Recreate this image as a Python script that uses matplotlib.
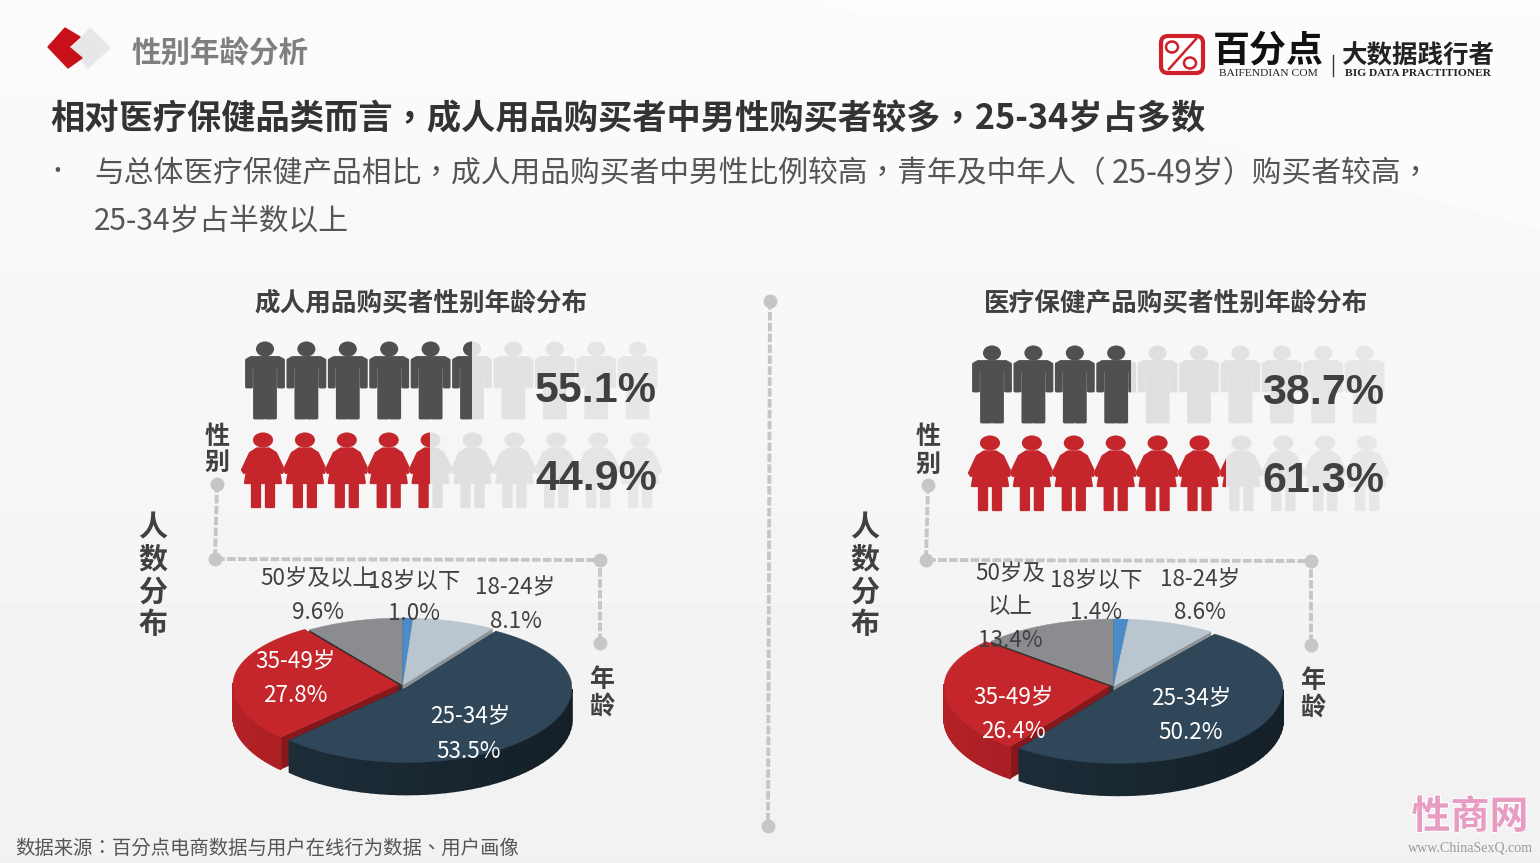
"""
Gender and age split of buyers, adult products vs health care products
"""

import numpy as np
import matplotlib
matplotlib.use("Agg")
import matplotlib.pyplot as plt
from matplotlib.patches import Polygon, Ellipse, Rectangle, FancyBboxPatch
import matplotlib.patheffects as pe

plt.rcParams['font.family'] = ['Noto Sans CJK SC', 'DejaVu Sans']

# data
age_labels = ['18岁以下', '18-24岁', '25-34岁', '35-49岁', '50岁及以上']
adult_age = [1.0, 8.1, 53.5, 27.8, 9.6]
health_age = [1.4, 8.6, 50.2, 26.4, 13.4]
adult_gender = [55.1, 44.9]
health_gender = [38.7, 61.3]

# slice styles, same order as the age labels
top_colors = ['#4a8bc9', '#b9c6d0', '#2f4759', '#c5262b', '#8a8c8f']
wall_colors = ['#2f6aa3', '#8d9499', '#1f303c', '#b32126', '#5a5a5a']
cut_colors = ['#2a5f95', '#8d9499', '#16232c', '#86171b', '#333333']
explode = [0, 0, 5, 5, 0]

DARK = '#404040'
GUIDE = '#c6c6c6'
# this family centres the full width comma and colon in their cell, like the slide
CENTRED_PUNCT = ['Noto Sans CJK TC', 'DejaVu Sans']


def px(size):
    # font size given in pixels at dpi 100
    return size * 0.72


def put_text(ax, x, y, s, size, color=DARK, weight='normal', ha='center', **kw):
    return ax.text(x, y + 4, s, fontsize=px(size), color=color, fontweight=weight,
                   ha=ha, va='center', zorder=10, **kw)


def draw_man(ax, cx, top, color, clip=None):
    pts = [(-18.5, 18), (-14, 15.5), (14, 15.5), (18.5, 18), (18.5, 45), (13.5, 45), (13.5, 25),
           (10.5, 25), (10.5, 76), (1, 76), (1, 48), (-1, 48), (-1, 76), (-10.5, 76),
           (-10.5, 25), (-13.5, 25), (-13.5, 45), (-18.5, 45)]
    body = Polygon([(cx + p, top + q) for p, q in pts], closed=True, fc=color, ec=color,
                   lw=2.0, joinstyle='round', zorder=3)
    head = Ellipse((cx, top + 7), 18, 15, fc=color, ec='none', zorder=3)
    for part in (body, head):
        ax.add_patch(part)
        if clip is not None:
            part.set_clip_path(clip)


def draw_woman(ax, cx, top, color, clip=None):
    pts = [(-6, 16.5), (6, 16.5), (13, 21), (21, 38), (19, 41), (16, 39), (18, 51), (11, 51),
           (11, 75), (3, 75), (3, 51), (-3, 51), (-3, 75), (-11, 75), (-11, 51),
           (-18, 51), (-16, 39), (-19, 41), (-21, 38), (-13, 21)]
    body = Polygon([(cx + p, top + q) for p, q in pts], closed=True, fc=color, ec=color,
                   lw=1.6, joinstyle='round', zorder=3)
    head = Ellipse((cx, top + 8), 20, 15, fc=color, ec='none', zorder=3)
    for part in (body, head):
        ax.add_patch(part)
        if clip is not None:
            part.set_clip_path(clip)


def draw_icon_row(ax, drawer, first_x, step, top, share, color):
    left = first_x - 21
    right = first_x + 9 * step + 21
    cut = left + (right - left) * share / 100
    clip = Rectangle((left - 3, top - 5), cut - left + 3, 95, transform=ax.transData)
    for i in range(10):
        x = first_x + i * step
        grey = 0.85 + 0.006 * i
        drawer(ax, x, top, (grey, grey, grey))
        drawer(ax, x, top, color, clip)


def pie_xy(cx, cy, rx, ry_top, ry_bot, t):
    # t is clockwise from 12 o'clock, top half is squeezed a bit like the perspective
    t = np.asarray(t)
    c = np.cos(t)
    ry = np.where(c > 0, ry_top, ry_bot)
    return cx + rx * np.sin(t), cy - ry * c


def draw_pie3d(ax, cx, cy, rx, ry_top, ry_bot, depth, values):
    edges = np.cumsum([0] + list(values)) / sum(values) * 2 * np.pi
    # back slices first, the big front slice last
    for i in [4, 0, 1, 3, 2]:
        a0, a1 = edges[i], edges[i + 1]
        mid = (a0 + a1) / 2
        ox = explode[i] * np.sin(mid)
        oy = -explode[i] * np.cos(mid) * 0.8
        t = np.linspace(a0, a1, 60)
        x, y = pie_xy(cx, cy, rx, ry_top, ry_bot, t)
        x, y = x + ox, y + oy
        ax0, ay0 = cx + ox, cy + oy

        # radial cut faces
        for xe, ye in ((x[0], y[0]), (x[-1], y[-1])):
            ax.add_patch(Polygon([(ax0, ay0), (xe, ye), (xe, ye + depth), (ax0, ay0 + depth)],
                                 fc=cut_colors[i], ec=cut_colors[i], lw=0.3, zorder=4))

        # outer wall, only the front part shows; darker to the right
        base = np.array(matplotlib.colors.to_rgb(wall_colors[i]))
        for j in range(len(t) - 1):
            if np.cos(t[j]) > 0.02:
                continue
            shade = 0.66 + 0.34 * (1 - (x[j] - (cx - rx)) / (2 * rx))
            col = base * shade
            ax.add_patch(Polygon([(x[j], y[j]), (x[j + 1], y[j + 1]),
                                  (x[j + 1], y[j + 1] + depth), (x[j], y[j] + depth)],
                                 fc=col, ec=col, lw=1.2, joinstyle='round', zorder=4))

        # top face
        ax.add_patch(Polygon(np.column_stack([np.r_[ax0, x], np.r_[ay0, y]]),
                             fc=top_colors[i], ec=top_colors[i], lw=0.3, zorder=4))


def draw_guides(ax, pts):
    xs, ys = zip(*pts)
    ax.plot(xs, ys, color=GUIDE, lw=2.8, linestyle=(0, (2.2, 0.6)), zorder=2)
    ax.plot(xs, ys, 'o', color=GUIDE, ms=10, mec='none', zorder=2)


def draw_header(ax):
    # chevron mark
    ax.add_patch(Polygon([(90, 27), (111, 48), (88, 69), (71, 48)], fc='#e6e7e8', ec='#f2f2f2',
                         lw=1, joinstyle='round', zorder=2))
    ax.add_patch(Polygon([(48, 47), (65, 28), (80, 37), (69, 47), (82, 58), (68, 68)],
                         fc='#c8101a', ec='#c8101a', lw=1, joinstyle='round', zorder=3))
    put_text(ax, 132, 50, '性别年龄分析', 29.5, color='#7f7f7f', weight='bold', ha='left')

    # logo
    ax.add_patch(FancyBboxPatch((1161, 36), 42, 37, boxstyle='round,pad=0,rounding_size=7',
                                fc='white', ec='#d0202a', lw=3, zorder=3))
    ax.plot([1169, 1196], [69, 39], color='#d0202a', lw=1.8, zorder=4)
    ax.add_patch(Ellipse((1172, 47), 12, 11, fc='none', ec='#d0202a', lw=1.8, zorder=4))
    ax.add_patch(Ellipse((1190, 63), 12, 11, fc='none', ec='#d0202a', lw=1.8, zorder=4))
    put_text(ax, 1268, 47, '百分点', 37, color='#111111', weight='bold')
    put_text(ax, 1268, 70, 'BAIFENDIAN COM', 11.5, color='#222222', family='Liberation Serif')
    ax.plot([1333, 1333], [55, 76], color='#333333', lw=1, zorder=4)
    put_text(ax, 1418, 52, '大数据践行者', 25.5, color='#222222', weight='bold')
    put_text(ax, 1418, 70, 'BIG DATA PRACTITIONER', 11.5, color='#222222', weight='bold',
             family='Liberation Serif')

    put_text(ax, 50, 115, '相对医疗保健品类而言\uff0c成人用品购买者中男性购买者较多\uff0c25-34岁占多数',
             34.3, color='#333333', weight='bold', ha='left', family=CENTRED_PUNCT)
    put_text(ax, 57, 168, '•', 22, color='#555555')
    # the bracket has wide gaps in the slide, so the line is set in three pieces
    put_text(ax, 94, 170, '与总体医疗保健产品相比\uff0c成人用品购买者中男性比例较高\uff0c青年及中年人\uff08',
             29.8, color='#555555', ha='left', family=CENTRED_PUNCT)
    put_text(ax, 1112, 170, '25-49岁', 31.5, color='#555555', ha='left')
    put_text(ax, 1223, 170, '\uff09购买者较高\uff0c', 29.8, color='#555555', ha='left', family=CENTRED_PUNCT)
    put_text(ax, 94, 218, '25-34岁占半数以上', 29.8, color='#555555', ha='left')


def draw_panel(ax, dx, title, title_x, men, women, man_x, woman_x, man_top, woman_top, pct_y):
    put_text(ax, title_x, 299, title, 25.6, weight='bold')
    draw_icon_row(ax, draw_man, man_x, 41.4, man_top, men, '#505050')
    draw_icon_row(ax, draw_woman, woman_x, 41.9, woman_top, women, '#c5262b')
    for y, value in zip(pct_y, (men, women)):
        put_text(ax, 596 + dx, y, f'{value:.1f}%', 43, weight='bold', family='Liberation Sans')
    for y, ch in zip((523, 555, 588, 620), '人数分布'):
        put_text(ax, 153 + (dx - 15 if dx else 0), y, ch, 29, weight='bold')


def main():
    fig = plt.figure(figsize=(15.4, 8.63), dpi=100)
    ax = fig.add_axes([0, 0, 1, 1])

    # soft page background
    grad = np.linspace(0.985, 0.945, 256).reshape(-1, 1)
    ax.imshow(grad, extent=(0, 1540, 863, 0), cmap='gray', vmin=0, vmax=1, aspect='auto', zorder=0)
    ax.add_patch(Polygon([(820, 0), (1540, 0), (1540, 230), (1150, 120)], fc='white', alpha=0.35,
                         ec='none', zorder=1))
    ax.set_xlim(0, 1540)
    ax.set_ylim(863, 0)
    ax.axis('off')

    draw_header(ax)

    # left panel
    draw_panel(ax, 0, '成人用品购买者性别年龄分布', 421, adult_gender[0], adult_gender[1],
               265, 263, 342, 432, (387, 475))
    for y, ch in zip((433, 459), '性别'):
        put_text(ax, 217, y, ch, 25, weight='bold')
    for y, ch in zip((676, 703), '年龄'):
        put_text(ax, 602, y, ch, 25, weight='bold')
    draw_guides(ax, [(217, 484), (215, 559), (600, 560), (600, 643)])
    draw_pie3d(ax, 403, 685, 165, 67, 75, 32, adult_age)

    put_text(ax, 318, 575, age_labels[4], 22.5)
    put_text(ax, 318, 608, f'{adult_age[4]:.1f}%', 22.5)
    put_text(ax, 414, 577, age_labels[0], 22.5)
    put_text(ax, 414, 609, f'{adult_age[0]:.1f}%', 22.5)
    put_text(ax, 515, 584, age_labels[1], 22.5)
    put_text(ax, 516, 617, f'{adult_age[1]:.1f}%', 22.5)
    put_text(ax, 295, 658, age_labels[3], 22.5, color='white')
    put_text(ax, 295, 691, f'{adult_age[3]:.1f}%', 22.5, color='white')
    put_text(ax, 470, 713, age_labels[2], 22.5, color='white')
    put_text(ax, 469, 747, f'{adult_age[2]:.1f}%', 22.5, color='white')

    # divider
    draw_guides(ax, [(770, 301), (768, 826)])

    # right panel
    draw_panel(ax, 727, '医疗保健产品购买者性别年龄分布', 1176, health_gender[0], health_gender[1],
               992, 990, 346, 435, (389, 477))
    for y, ch in zip((433, 461), '性别'):
        put_text(ax, 928, y, ch, 25, weight='bold')
    for y, ch in zip((677, 704), '年龄'):
        put_text(ax, 1313, y, ch, 25, weight='bold')
    draw_guides(ax, [(928, 485), (926, 560), (1311, 561), (1311, 645)])
    draw_pie3d(ax, 1114, 686, 165, 67, 75, 32, health_age)

    put_text(ax, 1010, 570, '50岁及', 22.5)
    put_text(ax, 1010, 603, '以上', 22.5)
    put_text(ax, 1010, 636, f'{health_age[4]:.1f}%', 22.5)
    put_text(ax, 1096, 576, age_labels[0], 22.5)
    put_text(ax, 1096, 608, f'{health_age[0]:.1f}%', 22.5)
    put_text(ax, 1200, 576, age_labels[1], 22.5)
    put_text(ax, 1200, 608, f'{health_age[1]:.1f}%', 22.5)
    put_text(ax, 1013, 694, age_labels[3], 22.5, color='white')
    put_text(ax, 1013, 727, f'{health_age[3]:.1f}%', 22.5, color='white')
    put_text(ax, 1191, 695, age_labels[2], 22.5, color='white')
    put_text(ax, 1191, 728, f'{health_age[2]:.1f}%', 22.5, color='white')

    # footer
    put_text(ax, 15, 844, '数据来源\uff1a百分点电商数据与用户在线行为数据、用户画像', 19.4, color='#555555', ha='left',
             family=CENTRED_PUNCT)
    mark = put_text(ax, 1470, 813, '性商网', 39, color='#e79cc2', weight='bold')
    mark.set_path_effects([pe.withStroke(linewidth=1.5, foreground='white')])
    put_text(ax, 1470, 844, 'www.ChinaSexQ.com', 14, color='#9a9a9a', family='Liberation Serif')

    fig.savefig('out.png', dpi=100)


if __name__ == "__main__":
    main()
